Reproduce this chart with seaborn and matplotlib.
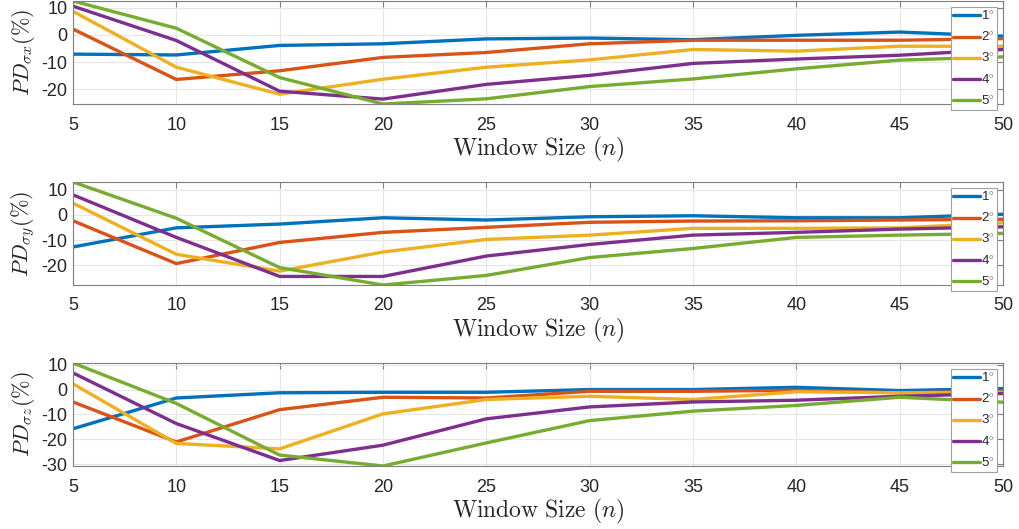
import numpy as np
import pandas as pd
import matplotlib
matplotlib.use("Agg")
import matplotlib.pyplot as plt
import seaborn as sns

# window sizes
window = [5, 10, 15, 20, 25, 30, 35, 40, 45, 50]
angles = ["1", "2", "3", "4", "5"]

# PD sigma x (%)
pdx_1 = [-7.1, -7.4, -3.9, -3.3, -1.5, -1.2, -1.8, -0.2, 1.0, -0.5]
pdx_2 = [2.1, -16.4, -13.2, -8.3, -6.5, -3.3, -2.0, -2.0, -2.0, -1.4]
pdx_3 = [8.6, -11.9, -21.8, -16.3, -11.9, -9.2, -5.4, -6.0, -4.2, -4.2]
pdx_4 = [10.5, -2.1, -20.7, -23.6, -18.2, -14.9, -10.5, -8.9, -7.5, -5.4]
pdx_5 = [12.4, 2.4, -15.7, -25.4, -23.5, -19.0, -16.2, -12.5, -9.3, -8.1]

# PD sigma y (%)
pdy_1 = [-12.7, -5.1, -3.6, -1.1, -2.0, -0.7, -0.3, -1.1, -1.1, 0.3]
pdy_2 = [-2.3, -19.3, -10.9, -6.9, -4.9, -2.9, -2.4, -2.3, -2.0, -1.7]
pdy_3 = [4.7, -15.6, -22.3, -14.7, -9.7, -8.0, -5.3, -5.3, -5.1, -3.1]
pdy_4 = [8.0, -8.9, -24.4, -24.4, -16.3, -11.7, -8.0, -6.9, -5.6, -4.7]
pdy_5 = [13.1, -1.3, -20.9, -27.8, -24.0, -16.9, -13.3, -8.9, -8.0, -7.3]

# PD sigma z (%)
pdz_1 = [-15.8, -3.4, -1.3, -1.1, -1.1, 0.0, 0.0, 0.9, -0.4, 0.4]
pdz_2 = [-5.0, -21.1, -8.1, -3.1, -3.4, -0.7, -0.7, -0.3, -1.3, -0.7]
pdz_3 = [2.3, -21.7, -23.9, -9.8, -4.0, -2.7, -4.0, -0.9, -1.3, -1.1]
pdz_4 = [6.7, -13.7, -28.6, -22.4, -11.8, -7.0, -5.0, -4.3, -2.7, -1.6]
pdz_5 = [10.7, -5.6, -26.4, -30.8, -21.5, -12.5, -8.7, -6.4, -3.1, -5.1]

panels = [
    ([pdx_1, pdx_2, pdx_3, pdx_4, pdx_5], r"$PD_{\sigma x}(\%)$"),
    ([pdy_1, pdy_2, pdy_3, pdy_4, pdy_5], r"$PD_{\sigma y}(\%)$"),
    ([pdz_1, pdz_2, pdz_3, pdz_4, pdz_5], r"$PD_{\sigma z}(\%)$"),
]

colors = ["#0072BD", "#D95319", "#EDB120", "#7E2F8E", "#77AC30"]

sns.set_style("white")
plt.rcParams["font.family"] = ["Liberation Sans", "DejaVu Sans"]
plt.rcParams["mathtext.fontset"] = "cm"
plt.rcParams["axes.unicode_minus"] = False

fig = plt.figure(figsize=(10.2, 5.29), dpi=100)
# axes boxes in pixels (top, bottom)
boxes = [(1, 104), (182, 285), (363, 466)]
W, H = 1020, 529

for (series, ylab), (top, bot) in zip(panels, boxes):
    ax = fig.add_axes([73 / W, 1 - bot / H, 930 / W, (bot - top) / H])
    rows = []
    for a, vals in zip(angles, series):
        for n, v in zip(window, vals):
            rows.append({"n": n, "pd": v, "angle": a})
    df = pd.DataFrame(rows)
    sns.lineplot(data=df, x="n", y="pd", hue="angle", palette=colors,
                 linewidth=2.4, ax=ax, legend=False)
    ax.set_xlim(5, 50)
    ax.set_xticks(window)
    ax.set_yticks([-30, -20, -10, 0, 10])
    ax.set_ylim(df["pd"].min(), df["pd"].max())
    ax.grid(True, color="#e6e6e6", linewidth=0.8)
    for s in ax.spines.values():
        s.set_color("#7f7f7f")
        s.set_linewidth(0.8)
    ax.tick_params(direction="in", length=4, color="#7f7f7f", labelsize=13,
                   labelcolor="#262626", top=True, right=True)
    ax.tick_params(axis="x", pad=9)
    ax.tick_params(axis="y", pad=4)
    ax.set_xlabel(r"$\mathrm{Window\ Size\ }(n)$", fontsize=17, color="#262626")
    ax.xaxis.set_label_coords(0.5, -0.30)
    ax.set_ylabel(ylab, fontsize=16, color="#262626")
    ax.yaxis.set_label_coords(-0.039, 0.5)
    handles = [plt.Line2D([], [], color=c, linewidth=2.4) for c in colors]
    labels = [a + r"$^{\circ}$" for a in angles]
    leg = ax.legend(handles, labels, loc="upper right",
                    bbox_to_anchor=(0.9935, 1 - 6 / (bot - top)),
                    fontsize=9.5, handlelength=2.0, handletextpad=0.1,
                    labelspacing=0.55, borderpad=0.15, borderaxespad=0,
                    fancybox=False, framealpha=1, edgecolor="#a0a0a0")
    leg.get_frame().set_linewidth(0.8)

fig.savefig("out.png", dpi=100)
